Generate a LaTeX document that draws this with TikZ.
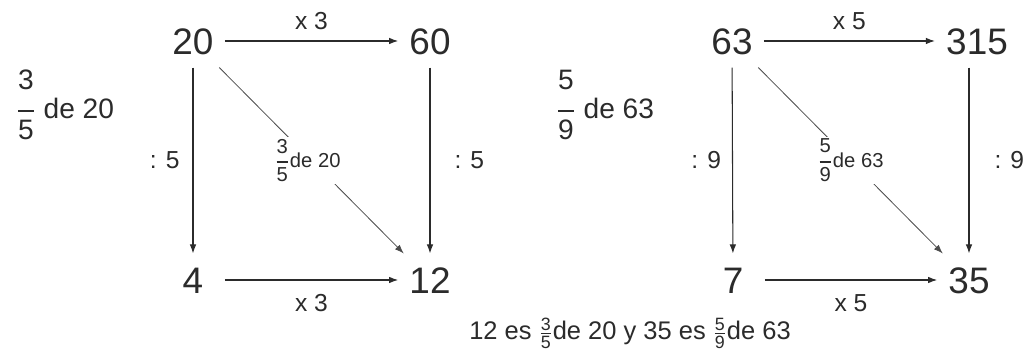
\documentclass[tikz,border=0pt]{standalone}
\usepackage{amsmath}
\usepackage{fontspec}
\setmainfont{Liberation Sans}
\usetikzlibrary{arrows.meta}
\definecolor{inkgray}{HTML}{2b2b2b}
\newcommand{\fr}[3][0em]{\ensuremath{\genfrac{}{}{0.8pt}{0}{\raisebox{#1}{#2}}{\mbox{#3}}}}
\newcommand{\tfr}[2]{\ensuremath{\tfrac{\text{#1}}{\text{#2}}}}

\begin{document}
\begin{tikzpicture}[x=0.02cm, y=-0.02cm,
		num/.style={font=\fontsize{21}{24}\selectfont, text=inkgray, minimum width=1.26cm,
			text height=15pt, text depth=0pt, inner xsep=0.22cm, inner ysep=0.26cm},
		op/.style={font=\fontsize{14}{16}\selectfont, text=inkgray, inner sep=0pt},
		side/.style={font=\fontsize{16}{18}\selectfont, text=inkgray, inner sep=0pt},
		diaglab/.style={font=\fontsize{11.5}{13}\selectfont, text=inkgray, fill=white, inner sep=1pt},
		arr/.style={draw=inkgray, line width=0.6pt, -{Latex[length=1.8mm, width=1.3mm]}},
		diag/.style={draw=inkgray!85, line width=0.45pt, -{Latex[length=1.8mm, width=1.3mm]}}]
	\useasboundingbox[fill=white] (0,0) rectangle (1023,350);

	% left square
	\node[num] (n20) at (193,41) {20};
	\node[num] (n60) at (430,41) {60};
	\node[num] (n4)  at (193,280) {4};
	\node[num] (n12) at (430,280) {12};
	\node[side] (s1) at (65,105) {\fr[0.3em]{3}{5} de 20};

	\draw[arr] (n20) -- node[op, above=0.22cm] (t1) {x 3} (n60);
	\draw[arr] (n4) -- node[op, below=0.28cm] (b1) {x 3} (n12);
	\draw[arr] (n20) -- node[op, left=0.26cm] (l1) {: 5} (n4);
	\draw[arr] (n60) -- node[op, right=0.48cm] (r1) {: 5} (n12);
	\draw[diag] (n20) -- node[diaglab, xshift=-0.08cm] (d1) {\fr{3}{5}de 20} (n12);

	% right square
	\node[num] (n63)  at (732,41) {63};
	\node[num] (n315) at (977,41) {315};
	\node[num] (n7)   at (733,280) {7};
	\node[num] (n35)  at (969,280) {35};
	\node[side] (s2) at (605,105) {\fr[0.3em]{5}{9} de 63};

	\draw[arr] (n63) -- node[op, above=0.22cm] (t2) {x 5} (n315);
	\draw[arr] (n7) -- node[op, below=0.28cm] (b2) {x 5} (n35);
	\draw[arr] (n63) -- node[op, left=0.22cm] (l2) {: 9} (n7);
	\draw[arr] (n315.south -| n35) -- node[op, right=0.5cm] (r2) {: 9} (n35);
	\draw[diag] (n63) -- node[diaglab] (d2) {\fr{5}{9}de 63} (n35);

	% bottom line
	\node[font=\fontsize{14.5}{16}\selectfont, text=inkgray, anchor=base, inner sep=0pt] (foot)
		at (630,340) {12 es \tfr{3}{5}de 20 y 35 es \tfr{5}{9}de 63};
\end{tikzpicture}
\end{document}
